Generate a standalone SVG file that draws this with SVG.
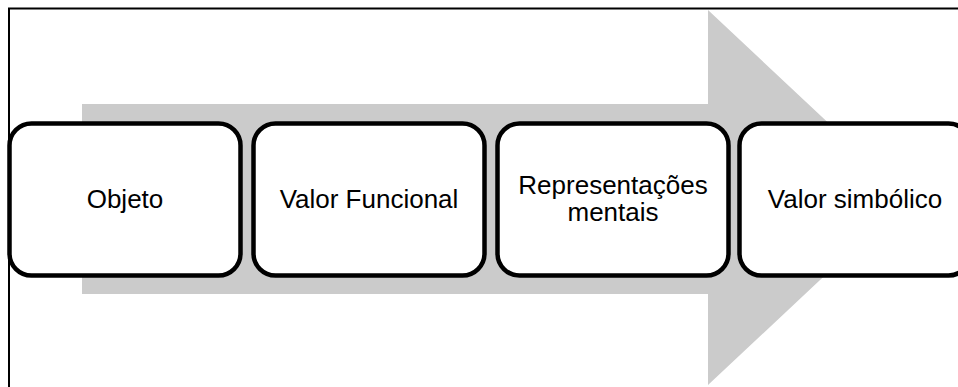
<svg xmlns="http://www.w3.org/2000/svg" width="958" height="387" viewBox="0 0 958 387">
<style>
.frame{fill:none;stroke:#000;stroke-width:2}
.arrow{fill:#cbcbcb;stroke:none}
.node{fill:#fff;stroke:#000;stroke-width:4.5}
.lbl{font-family:"Liberation Sans",Arial,sans-serif;font-size:26px;fill:#000;text-anchor:middle}
</style>
<rect width="958" height="387" fill="#fff"/>
<path class="frame" d="M9,388 V8.5 H959"/>
<g id="connectors">
<polygon class="arrow" points="82,104 708,104 708,10 908,197.5 708,385 708,294 82,294"/>
</g>
<g id="n1">
<rect class="node" x="9.5" y="123.5" width="231" height="152" rx="22"/>
<text class="lbl" x="125" y="208">Objeto</text>
</g>
<g id="n2">
<rect class="node" x="253.5" y="123.5" width="231" height="152" rx="22"/>
<text class="lbl" x="369" y="208">Valor Funcional</text>
</g>
<g id="n3">
<rect class="node" x="497.5" y="123.5" width="231" height="152" rx="22"/>
<text class="lbl" x="613" y="194">Representações</text>
<text class="lbl" x="613" y="221">mentais</text>
</g>
<g id="n4">
<rect class="node" x="739.5" y="123.5" width="231" height="152" rx="22"/>
<text class="lbl" x="855" y="208">Valor simbólico</text>
</g>
</svg>
